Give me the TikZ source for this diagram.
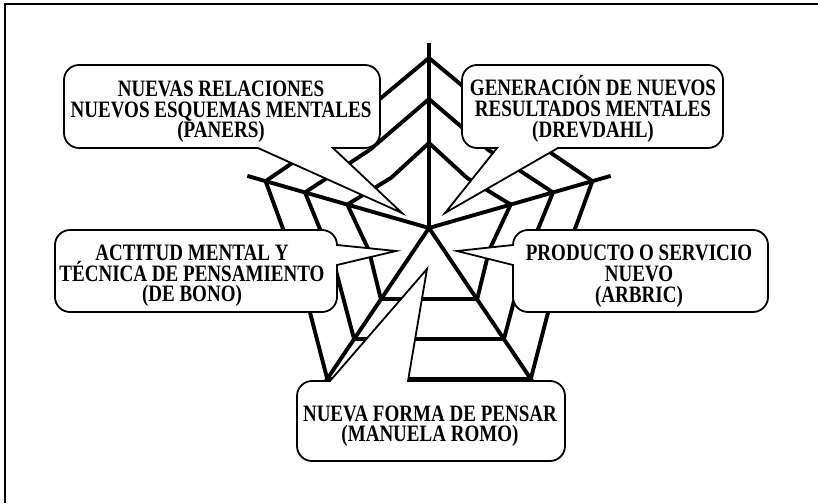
\documentclass[tikz,border=0pt]{standalone}
\usepackage{fontspec}
\newfontfamily\bubfont{Liberation Serif}[FakeStretch=0.81]
\usetikzlibrary{calc}
\newcommand\bubtext{\bubfont\bfseries\fontsize{23.5}{20.6}\selectfont\lineskiplimit=-20pt\relax}

\begin{document}
\begin{tikzpicture}[x=1pt,y=1pt,
  web/.style={line width=3.9pt},
  bubble/.style={draw,line width=1.8pt,fill=white,rounded corners=15pt},
  txt/.style={align=center,font=\bubtext}]
\useasboundingbox (0,0) rectangle (818,503);
\draw[line width=1.4pt] (5,0) |- (818,499);

% web
\coordinate (c) at (429,275);
\foreach \a/\n/\ra/\rb/\rc/\r in {90/t/85/129/170/185, 164/l/85/129/170/189,
    16/r/85/129/170/189, 236/dl/86/134/182/200, 304/dr/86/134/182/200} {
  \draw[web] (c) -- ++(\a:\r);
  \coordinate (\n1) at ($(c)+(\a:\ra)$);
  \coordinate (\n2) at ($(c)+(\a:\rb)$);
  \coordinate (\n3) at ($(c)+(\a:\rc)$);
}
\foreach \p/\q/\s in {t/l/5pt, t/r/5pt, l/dl/5pt, r/dr/5pt, dl/dr/0pt}
  \foreach \k in {1,2,3} {
    \coordinate (m) at ($(\p\k)!.5!(\q\k)$);
    \draw[web] (\p\k) -- ($(m)!\s!(c)$) -- (\q\k);
  }

% bubbles
\draw[bubble] (64,396) -- (64,438) -- (380,438) -- (380,355) [sharp corners]
  -- (333,355) -- (402,290) -- (258,355) [rounded corners=15pt] -- (64,355) -- cycle;
\draw[bubble] (462,396) -- (462,438) -- (723,438) -- (723,355) [sharp corners]
  -- (558,355) -- (445,290) -- (497,355) [rounded corners=15pt] -- (462,355) -- cycle;
\draw[bubble] (55,232) -- (55,273) -- (337,273) [sharp corners]
  -- (337,258) -- (396,252) -- (337,238) [rounded corners=15pt] -- (337,191) -- (55,191) -- cycle;
\draw[bubble] (768,232) -- (768,273) -- (513,273) [sharp corners]
  -- (513,258) -- (457,252) -- (513,238) [rounded corners=15pt] -- (513,191) -- (768,191) -- cycle;
\draw[bubble] (431,42) -- (297,42) -- (297,122) [sharp corners]
  -- (330,122) -- (427,234) -- (408,122) [rounded corners=15pt] -- (565,122) -- (565,42) -- cycle;

\node[txt] (paners) at (221,391.2) {NUEVAS RELACIONES\\NUEVOS ESQUEMAS MENTALES\\(PANERS)};
\node[txt] (drevdahl) at (593,394) {GENERACIÓN DE NUEVOS\\RESULTADOS MENTALES\\(DREVDAHL)};
\node[txt] (debono) at (192,227.2) {ACTITUD MENTAL Y\\TÉCNICA DE PENSAMIENTO\\(DE BONO)};
\node[txt] (arbric) at (639,226.7) {PRODUCTO O SERVICIO\\NUEVO\\(ARBRIC)};
\node[txt] (romo) at (430,76.7) {NUEVA FORMA DE PENSAR\\(MANUELA ROMO)};
\end{tikzpicture}
\end{document}
